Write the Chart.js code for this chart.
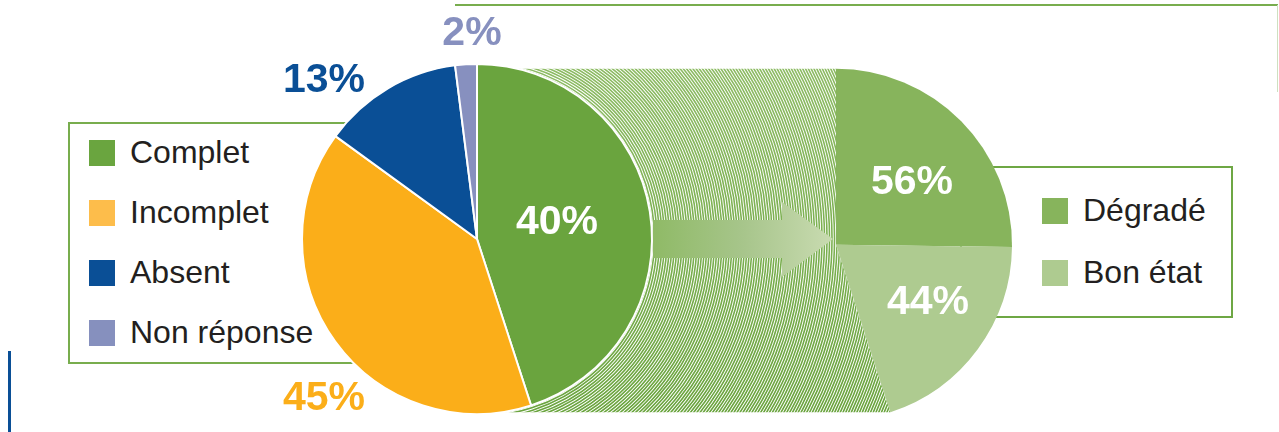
<!DOCTYPE html>
<html lang="fr">
<head>
<meta charset="utf-8">
<title>Complet / Incomplet</title>
<script src="https://cdn.jsdelivr.net/npm/chart.js@4"></script>
<style>
    body { margin: 0; background: #fff; overflow: hidden; font-family: "Liberation Sans", Arial, sans-serif; }
    #wrap { position: relative; width: 1279px; height: 432px; }
    canvas { position: absolute; left: 0; top: 0; }
    #mainChart { z-index: 1; }
    #subChart { z-index: 2; }
    .box { position: absolute; box-sizing: border-box; border: 2px solid #78ad4e; z-index: 0; }
    .swatch { position: absolute; width: 26px; height: 26px; }
    .item { position: absolute; font-size: 32px; line-height: 32px; color: #231f20; white-space: nowrap; }
    .rule { position: absolute; }
</style>
</head>
<body>
<div id="wrap">
    <div class="rule" style="left:455px; top:4px; width:823px; height:2px; background:#78ad4e;"></div>
    <div class="rule" style="left:1277px; top:5px; width:1px; height:87px; background:#cfe0c0;"></div>
    <div class="rule" style="left:8px; top:351px; width:3px; height:81px; background:#0a4f96;"></div>
    <div class="box" id="mainLegend" style="left:68px; top:122px; width:360px; height:242px;"></div>
    <div class="box" id="subLegend" style="left:960px; top:166px; width:273px; height:152px; border-color:#6ea744;"></div>
    <canvas id="mainChart" width="1279" height="432"></canvas>
    <canvas id="subChart" width="1279" height="432"></canvas>
</div>

<script>
// main pie: slice sizes as drawn (the printed labels swap 40/45)
const mainLabels = ['Complet', 'Incomplet', 'Absent', 'Non réponse'];
const mainShares = [45, 40, 13, 2];
const mainPercentText = ['40%', '45%', '13%', '2%'];
const mainColors = ['#6aa43e', '#fbae19', '#0a4f96', '#8790bf'];
const mainLegendColors = ['#6aa53f', '#fdbd4b', '#0a4f96', '#8690be'];

// breakdown of the "Complet" slice
const subLabels = ['Dégradé', 'Bon état'];
const subValues = [56, 44];
const subPercentText = ['56%', '44%'];
const subColors = ['#87b45c', '#aecb90'];

function buildLegend(labels, colors, swatchX, firstTop, step) {
    const wrap = document.getElementById('wrap');
    const before = document.getElementById('mainChart');
    labels.forEach((label, i) => {
        const top = firstTop + i * step;
        const sw = document.createElement('div');
        sw.className = 'swatch';
        sw.style.left = swatchX + 'px';
        sw.style.top = top + 'px';
        sw.style.background = colors[i];
        const txt = document.createElement('div');
        txt.className = 'item';
        txt.style.left = (swatchX + 41) + 'px';
        txt.style.top = (top - 4) + 'px';
        txt.textContent = label;
        wrap.insertBefore(sw, before);
        wrap.insertBefore(txt, before);
    });
}

function makeLabelPlugin(texts, colors, offsets) {
    return {
        id: 'percentLabels',
        afterDatasetsDraw(chart) {
            const ctx = chart.ctx;
            const arcs = chart.getDatasetMeta(0).data;
            ctx.save();
            ctx.font = 'bold 41px "Liberation Sans", Arial, sans-serif';
            ctx.textAlign = 'center';
            ctx.textBaseline = 'middle';
            arcs.forEach((arc, i) => {
                ctx.fillStyle = colors[i];
                ctx.fillText(texts[i], arc.x + offsets[i][0], arc.y + offsets[i][1]);
            });
            ctx.restore();
        }
    };
}

buildLegend(mainLabels, mainLegendColors, 89, 140, 60);
buildLegend(subLabels, subColors, 1042, 198, 62);

const subChart = new Chart(document.getElementById('subChart'), {
    type: 'pie',
    data: {
        labels: subLabels,
        datasets: [{
            data: subValues,
            backgroundColor: subColors,
            borderWidth: 0,
            rotation: 0,
            circumference: mainShares[0] * 3.6,
            radius: 176
        }]
    },
    options: {
        responsive: false,
        animation: false,
        events: [],
        layout: { padding: { left: 836, right: 267, top: 69, bottom: 20 } },
        plugins: { legend: { display: false }, tooltip: { enabled: false } }
    },
    plugins: [makeLabelPlugin(subPercentText, ['#fff', '#fff'], [[76, -62], [92, 58]])]
});

// hatched band + arrow between the two pies
const connector = {
    id: 'connector',
    beforeDatasetsDraw(chart) {
        const ctx = chart.ctx;
        const main = chart.getDatasetMeta(0).data[0];
        const sub = subChart.getDatasetMeta(0).data;
        const cx = main.x, cy = main.y, r = main.outerRadius;
        const sx = sub[0].x, sy = sub[0].y, R = sub[0].outerRadius;
        const endA = sub[sub.length - 1].endAngle;
        const bx = sx + R * Math.cos(endA), by = sy + R * Math.sin(endA);

        ctx.save();
        ctx.beginPath();
        ctx.moveTo(cx, sy - R);
        ctx.lineTo(sx, sy - R);
        ctx.lineTo(sx, sy);
        ctx.lineTo(bx, by);
        ctx.lineTo(cx + 25, by);
        ctx.lineTo(cx, cy);
        ctx.closePath();
        ctx.clip();
        ctx.fillStyle = '#fff';
        ctx.fill();
        const g = ctx.createLinearGradient(0, sy - R, 0, by);
        g.addColorStop(0, '#8dbb64');
        g.addColorStop(1, '#6aa43e');
        ctx.strokeStyle = g;
        ctx.lineWidth = 1.6;
        for (let rr = r; rr < 470; rr += 2.5) {
            ctx.beginPath();
            ctx.arc(cx, cy, rr, -Math.PI * 0.6, Math.PI * 0.7);
            ctx.stroke();
        }
        ctx.restore();

        // arrow
        const ay = cy;
        const x0 = cx + r + 1, xHead = sx - 54, xTip = sx - 3;
        const ag = ctx.createLinearGradient(x0, 0, xTip, 0);
        ag.addColorStop(0, '#8fba66');
        ag.addColorStop(0.5, '#a7c58b');
        ag.addColorStop(1, '#c9dbb1');
        ctx.save();
        ctx.fillStyle = ag;
        ctx.beginPath();
        ctx.moveTo(x0, ay - 19);
        ctx.lineTo(xHead, ay - 19);
        ctx.lineTo(xHead, ay - 37);
        ctx.lineTo(xTip, ay);
        ctx.lineTo(xHead, ay + 38);
        ctx.lineTo(xHead, ay + 19);
        ctx.lineTo(x0, ay + 19);
        ctx.closePath();
        ctx.fill();
        ctx.restore();
    }
};

new Chart(document.getElementById('mainChart'), {
    type: 'pie',
    data: {
        labels: mainLabels,
        datasets: [{
            data: mainShares,
            backgroundColor: mainColors,
            borderColor: '#fff',
            borderWidth: 2,
            radius: 175
        }]
    },
    options: {
        responsive: false,
        animation: false,
        events: [],
        layout: { padding: { left: 302, right: 627, top: 64, bottom: 18 } },
        plugins: { legend: { display: false }, tooltip: { enabled: false } }
    },
    plugins: [
        connector,
        makeLabelPlugin(mainPercentText, ['#fff', '#fbae19', '#0a4f96', '#8790bf'],
            [[80, -16], [-153, 160], [-153, -158], [-5, -205]])
    ]
});
</script>
</body>
</html>
